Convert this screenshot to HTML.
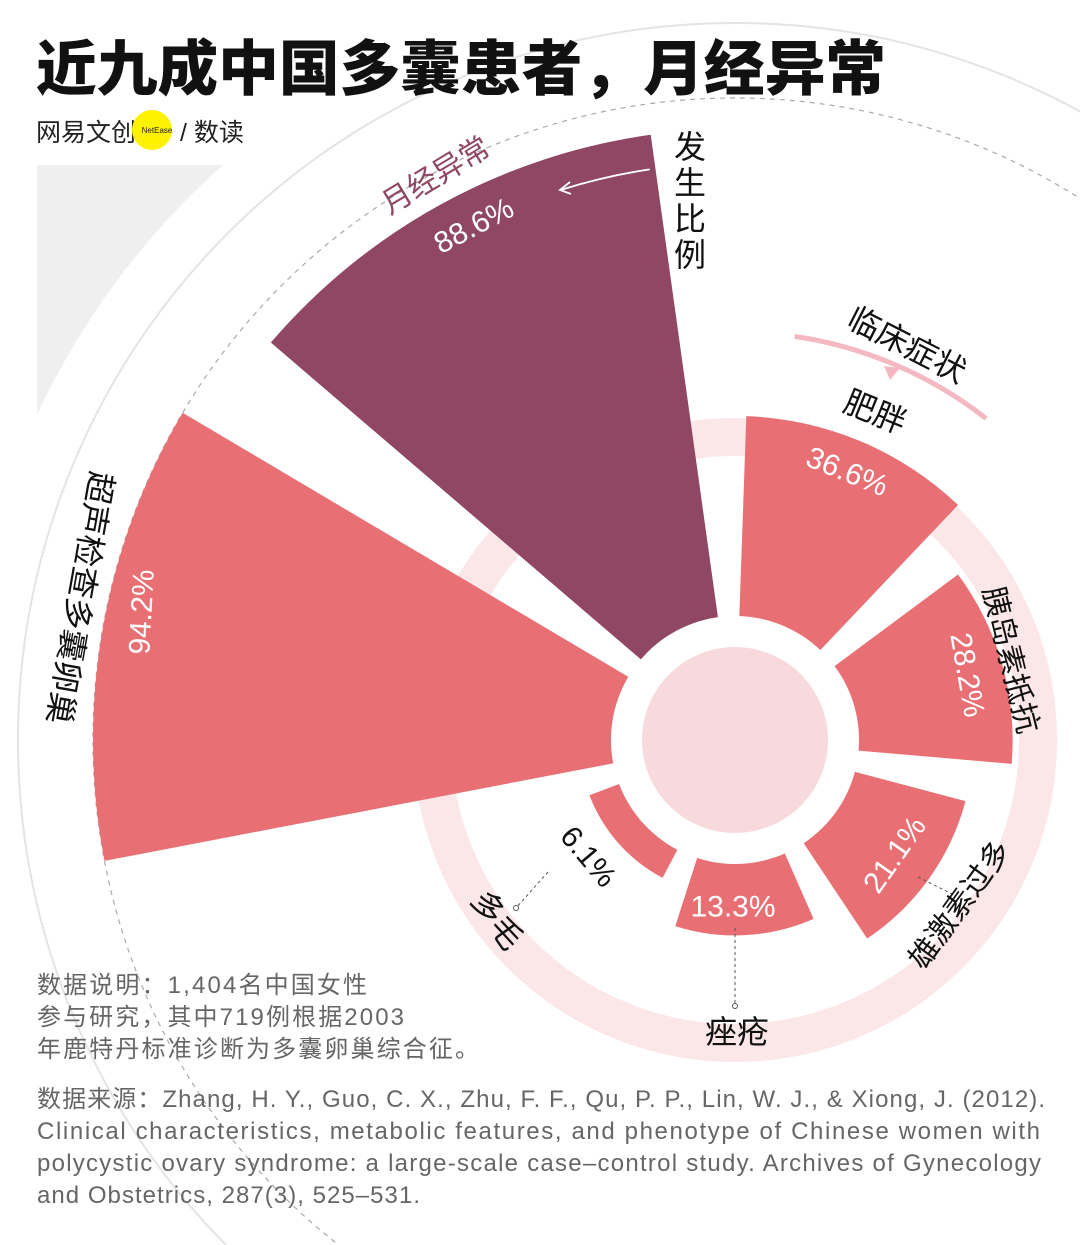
<!DOCTYPE html>
<html><head><meta charset="utf-8">
<style>
html,body{margin:0;padding:0;background:#fff;width:1080px;height:1245px;overflow:hidden;}
body{position:relative;font-family:"Liberation Sans","Noto Sans CJK SC",sans-serif;}
svg{position:absolute;left:0;top:0;display:block;}
</style></head>
<body>
<svg id="chart" width="1080" height="1245" viewBox="0 0 1080 1245" font-family="Liberation Sans, Noto Sans CJK SC, sans-serif">
  <rect x="37" y="165" width="500" height="400" fill="#efefef"/>
  <circle cx="735" cy="740" r="770" fill="#fff"/>
  <circle cx="735" cy="740" r="717" fill="none" stroke="#e4e4e4" stroke-width="2"/>
  <circle cx="735" cy="740" r="642" fill="none" stroke="#aaa" stroke-width="1.2" stroke-dasharray="5 5"/>
  <circle cx="735" cy="740" r="303" fill="none" stroke="#fbe6e8" stroke-width="38"/>
  <g id="bars"></g>
  <circle cx="735" cy="740" r="124" fill="#fff"/>
  <circle cx="735" cy="740" r="93" fill="#f8dadc"/>
  <path d="" id="bracket" fill="none" stroke="#f4b9c0" stroke-width="5"/>
  <polygon points="884,366 900,368 890,380" fill="#f4b9c0"/>
  <path id="arrow" d="" fill="none" stroke="#fff" stroke-width="1.8"/>
  <polyline points="570,182 560,190 571,194" fill="none" stroke="#fff" stroke-width="1.8"/>
  <g stroke="#555" stroke-width="1" stroke-dasharray="3 3" fill="none">
    <line x1="548" y1="872" x2="516" y2="908"/>
    <line x1="918" y1="877" x2="952" y2="894"/>
    <line x1="735" y1="928" x2="735" y2="1006"/>
  </g>
  <circle cx="516" cy="908" r="2.5" fill="#fff" stroke="#555"/>
  <circle cx="735" cy="1006" r="2.5" fill="#fff" stroke="#555"/>
  <g id="labels" dominant-baseline="central" text-anchor="middle"></g>
  <text x="36" y="90" font-size="60" font-weight="900" fill="#111" textLength="850" lengthAdjust="spacingAndGlyphs">近九成中国多囊患者，月经异常</text>
  <text x="36" y="141" font-size="25" fill="#222">网易文创</text>
  <circle cx="152" cy="130" r="20" fill="#fff200"/>
  <text x="157" y="133" font-size="8" text-anchor="middle" fill="#222">NetEase</text>
  <text x="180" y="141" font-size="25" fill="#222">/ 数读</text>
  <text font-size="32" fill="#111" text-anchor="middle">
    <tspan x="690" y="158">发</tspan><tspan x="690" y="194">生</tspan><tspan x="690" y="230">比</tspan><tspan x="690" y="266">例</tspan>
  </text>
  <g font-size="24" fill="#666" lengthAdjust="spacingAndGlyphs">
    <text x="37" y="993" textLength="330">数据说明：1,404名中国女性</text>
    <text x="37" y="1025" textLength="367">参与研究，其中719例根据2003</text>
    <text x="37" y="1057" textLength="442">年鹿特丹标准诊断为多囊卵巢综合征。</text>
  </g>
  <g font-size="24" fill="#666">
    <text x="37" y="1107" textLength="1008">数据来源：Zhang, H. Y., Guo, C. X., Zhu, F. F., Qu, P. P., Lin, W. J., &amp; Xiong, J. (2012).</text>
    <text x="37" y="1139" textLength="1003">Clinical characteristics, metabolic features, and phenotype of Chinese women with</text>
    <text x="37" y="1171" textLength="1004">polycystic ovary syndrome: a large-scale case–control study. Archives of Gynecology</text>
    <text x="37" y="1203" textLength="383">and Obstetrics, 287(3), 525–531.</text>
  </g>
</svg>
<script>
const categories = ["肥胖","胰岛素抵抗","雄激素过多","痤疮","多毛","超声检查多囊卵巢","月经异常"];
const values = [36.6, 28.2, 21.1, 13.3, 6.1, 94.2, 88.6];
const valueLabels = ["36.6%","28.2%","21.1%","13.3%","6.1%","94.2%","88.6%"];
const cx = 735, cy = 740, r0 = 122, k = 5.52, startAngle = 2, slot = 360/7, wedge = 41.5;
function rScale(v){ return r0 + k*v; }
function pt(a, r){ const t = a*Math.PI/180; return [cx + r*Math.sin(t), cy - r*Math.cos(t)]; }
const NS = "http://www.w3.org/2000/svg";
const bars = document.getElementById("bars");
values.forEach((v,i)=>{
  const a0 = startAngle + slot*i, a1 = a0 + wedge, R = rScale(v);
  const p0 = pt(a0, R), p1 = pt(a1, R);
  const path = document.createElementNS(NS,"path");
  path.setAttribute("d", `M${cx},${cy} L${p0[0]},${p0[1]} A${R},${R} 0 0 1 ${p1[0]},${p1[1]} Z`);
  path.setAttribute("fill", i===6 ? "#8f4763" : "#e87074");
  
  
  bars.appendChild(path);
});
(function(){
  const a=pt(8.4,408), b=pt(38,408);
  document.getElementById("bracket").setAttribute("d",`M${a[0]},${a[1]} A408,408 0 0 1 ${b[0]},${b[1]}`);
  const c=pt(-8.5,577), d=pt(-17.6,577);
  document.getElementById("arrow").setAttribute("d",`M${c[0]},${c[1]} A577,577 0 0 0 ${d[0]},${d[1]}`);
})();
const labelDefs = [
  [categories[0], 875, 412, 22, "#111", 32],
  [valueLabels[0], 847, 472, 22, "#fff", 30],
  [categories[1], 1010, 660, 76, "#111", 30],
  [valueLabels[1], 967, 675, 80, "#fff", 30],
  [categories[2], 960, 905, -54, "#111", 30],
  [valueLabels[2], 895, 855, -55, "#fff", 30],
  [categories[3], 737, 1032, 0, "#111", 32],
  [valueLabels[3], 733, 907, 0, "#fff", 30],
  [valueLabels[4], 588, 857, 50, "#111", 30],
  [categories[4], 497, 920, 55, "#111", 32],
  [categories[5], 80, 598, 100, "#111", 32],
  [valueLabels[5], 142, 612, -87, "#fff", 30],
  [categories[6], 436, 176, -31, "#8f4763", 30],
  [valueLabels[6], 474, 226, -28, "#fff", 30],
  ["临床症状", 907, 345, 27, "#111", 32]
];
const lg = document.getElementById("labels");
labelDefs.forEach(d=>{
  const t = document.createElementNS(NS,"text");
  t.setAttribute("x", d[1]); t.setAttribute("y", d[2]);
  t.setAttribute("transform", `rotate(${d[3]} ${d[1]} ${d[2]})`);
  t.setAttribute("fill", d[4]); t.setAttribute("font-size", d[5]);
  t.textContent = d[0];
  
  
  lg.appendChild(t);
});
</script>
</body></html>
